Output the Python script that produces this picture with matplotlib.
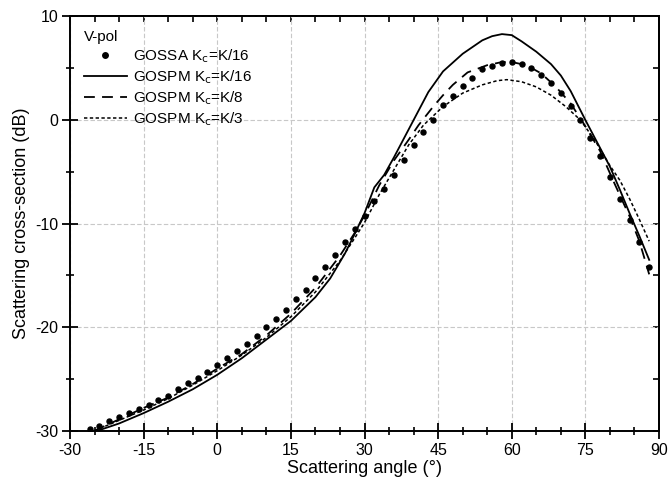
import matplotlib
matplotlib.use("Agg")
import matplotlib.pyplot as plt

plt.rcParams['font.family'] = ['Liberation Sans', 'DejaVu Sans']
plt.rcParams['axes.unicode_minus'] = False

# GOSSA Kc=K/16 (dots)
gossa_x = list(range(-26, 89, 2))
gossa_y = [-29.8, -29.5, -29.1, -28.7, -28.3, -27.9, -27.5, -27.0, -26.6, -26.0,
           -25.4, -24.9, -24.3, -23.7, -23.0, -22.3, -21.6, -20.9, -20.0, -19.2,
           -18.3, -17.3, -16.4, -15.3, -14.2, -13.0, -11.75, -10.5, -9.3, -7.8,
           -6.7, -5.35, -3.9, -2.4, -1.2, 0.05, 1.45, 2.35, 3.3, 4.1,
           4.9, 5.2, 5.5, 5.6, 5.4, 5.0, 4.35, 3.6, 2.65, 1.36,
           0.0, -1.76, -3.5, -5.5, -7.6, -9.65, -11.75, -14.2]

# GOSPM Kc=K/16 (solid)
k16_x = [-25, -20, -15, -10, -5, 0, 5, 10, 15, 20, 23, 26, 28, 30, 32, 34, 36, 38, 40,
         43, 46, 50, 54, 56, 58, 60, 62, 65, 68, 70, 72, 75, 78, 80, 82, 84, 86, 88]
k16_y = [-30.1, -29.3, -28.3, -27.2, -26.0, -24.6, -23.0, -21.2, -19.4, -17.1, -15.3,
         -12.9, -11.0, -9.0, -6.5, -5.3, -3.6, -1.8, 0.0, 2.7, 4.7, 6.4, 7.7, 8.1, 8.3, 8.2,
         7.6, 6.6, 5.4, 4.3, 2.8, 0.0, -2.7, -4.5, -6.7, -9.0, -11.2, -13.5]

# GOSPM Kc=K/8 (dashed)
k8_x = [-25, -20, -15, -10, -5, 0, 5, 10, 15, 20, 25, 28, 30, 33, 36, 39, 41, 44,
        46, 48, 51, 55, 58, 60, 63, 66, 69, 72, 75, 78, 81, 84, 86, 88]
k8_y = [-30.0, -28.9, -27.8, -26.8, -25.5, -24.0, -22.6, -20.8, -18.7, -16.2, -13.1,
        -10.9, -9.2, -6.3, -3.9, -1.9, -0.5, 1.3, 2.4, 3.4, 4.6, 5.3, 5.6, 5.6, 5.3,
        4.5, 3.2, 1.6, -0.6, -3.0, -6.2, -9.3, -11.7, -14.9]

# GOSPM Kc=K/3 (dotted)
k3_x = [-25, -20, -15, -10, -5, 0, 5, 10, 15, 20, 25, 28, 30, 33, 36, 39, 42, 46,
        50, 54, 57, 59, 62, 65, 68, 71, 74, 77, 80, 82, 84, 86, 88]
k3_y = [-30.0, -29.0, -28.0, -26.9, -25.6, -24.2, -22.7, -21.0, -19.0, -16.6, -13.6,
        -11.4, -9.9, -7.2, -4.8, -2.4, -0.5, 1.3, 2.6, 3.4, 3.8, 3.9, 3.7, 3.2, 2.4,
        1.3, 0.0, -2.0, -4.4, -5.8, -7.6, -9.6, -11.7]

x_ticks = [-30, -15, 0, 15, 30, 45, 60, 75, 90]
y_ticks = [-30, -20, -10, 0, 10]

fig = plt.figure(figsize=(6.7, 4.88), dpi=100)
ax = fig.add_axes([0.1045, 0.1174, 0.8791, 0.8488])

ax.plot(gossa_x, gossa_y, 'o', color='black', markersize=3.6, label=r'GOSSA K$_\mathrm{c}$=K/16', zorder=4)
ax.plot(k16_x, k16_y, '-', color='black', lw=1.3, label=r'GOSPM K$_\mathrm{c}$=K/16', zorder=3)
ax.plot(k8_x, k8_y, color='black', lw=1.3, dashes=(6, 4), label=r'GOSPM K$_\mathrm{c}$=K/8', zorder=3)
ax.plot(k3_x, k3_y, color='black', lw=1.1, dashes=(2.2, 1.6), label=r'GOSPM K$_\mathrm{c}$=K/3', zorder=3)

ax.set_xlim(-30, 90)
ax.set_ylim(-30, 10)
ax.set_xticks(x_ticks)
ax.set_yticks(y_ticks)
ax.set_xticks(range(-25, 90, 5), minor=True)
ax.set_yticks(range(-25, 10, 5), minor=True)
ax.tick_params(which='major', direction='inout', length=11, width=1.3, labelsize=11.5,
               top=False, right=False, pad=3)
ax.tick_params(which='minor', direction='inout', length=6, width=1.2, top=False, right=False)
for s in ax.spines.values():
    s.set_linewidth(1.4)

ax.grid(True, which='major', color='#c8c8c8', linestyle=(0, (4, 2)), linewidth=0.8)

sec_x = ax.secondary_xaxis('top')
sec_x.set_xticks(x_ticks)
sec_x.set_xticks(range(-25, 90, 5), minor=True)
sec_x.tick_params(which='both', direction='in', length=4, width=1.2, labeltop=False)
sec_x.spines['top'].set_linewidth(1.4)
sec_y = ax.secondary_yaxis('right')
sec_y.set_yticks(y_ticks)
sec_y.set_yticks(range(-25, 10, 5), minor=True)
sec_y.tick_params(which='both', direction='in', length=4, width=1.2, labelright=False)
sec_y.spines['right'].set_linewidth(1.4)

ax.set_xlabel('Scattering angle (°)', fontsize=13, labelpad=2)
ax.set_ylabel('Scattering cross-section (dB)', fontsize=13, labelpad=4)

leg = ax.legend(loc='upper left', frameon=False, title='V-pol', alignment='left',
                fontsize=11, title_fontsize=11, handlelength=2.8, handletextpad=0.4,
                labelspacing=0.22, borderaxespad=0.5, markerscale=1.1)

fig.savefig('out.png', dpi=100)
